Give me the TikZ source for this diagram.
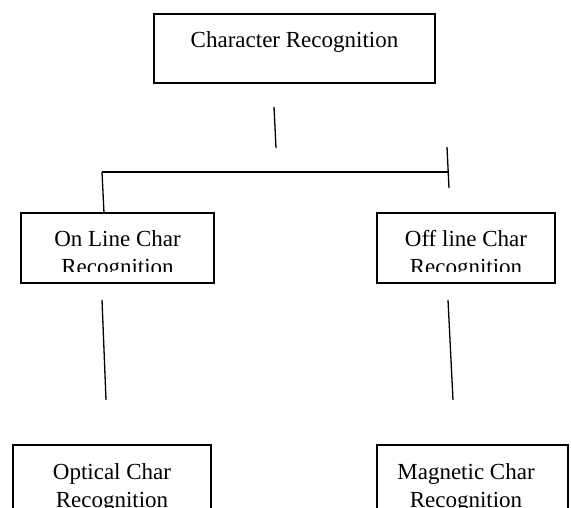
\documentclass[tikz,border=0pt]{standalone}
\usepackage{fontspec}
\setmainfont{Liberation Serif}
\begin{document}
\begin{tikzpicture}[x=1pt,y=-1pt,
  box/.style={draw, line width=1.6pt, inner sep=0pt},
  lbl/.style={font=\fontsize{23}{27}\selectfont, anchor=base, inner sep=0pt},
  conn/.style={line width=1.3pt}]
\useasboundingbox (0,0) rectangle (571,508);
% boxes
\node[box, minimum width=281, minimum height=69] (top) at (294.5,48.5) {};
\node[box, minimum width=193, minimum height=70] (onl) at (117.5,248) {};
\node[box, minimum width=178, minimum height=70] (off) at (466,248) {};
\node[box, minimum width=198, minimum height=85] (opt) at (112,487.5) {};
\node[box, minimum width=191, minimum height=85] (mag) at (472.5,487.5) {};
% labels
\node[lbl] (topt) at (294.5,48) {Character Recognition};
\begin{scope}
\clip (21,213) rectangle (214,272);
\node[lbl] (onl1) at (117.5,247) {On Line Char};
\node[lbl] (onl2) at (117.5,274) {Recognition};
\end{scope}
\begin{scope}
\clip (377,213) rectangle (555,272);
\node[lbl] (off1) at (466,247) {Off line Char};
\node[lbl] (off2) at (466,274) {Recognition};
\end{scope}
\node[lbl] (opt1) at (112,479) {Optical Char};
\node[lbl] (opt2) at (112,507) {Recognition};
\node[lbl] (mag1) at (466,479) {Magnetic Char};
\node[lbl] (mag2) at (466,507) {Recognition};
% connector end points
\coordinate (a1) at (274,107);
\coordinate (a2) at (276,148);
\coordinate (hl) at (102,172);
\coordinate (hr) at (448,172);
\coordinate (ld) at (104,213);
\coordinate (t1) at (447,147);
\coordinate (t2) at (449,188);
\coordinate (l1) at (102,300);
\coordinate (l2) at (106,400);
\coordinate (r1) at (448,300);
\coordinate (r2) at (453,400);
% connectors
\draw[conn] (a1) -- (a2);
\draw[conn] (hl) -- (hr);
\draw[conn] (hl) -- (ld);
\draw[conn] (t1) -- (t2);
\draw[conn] (l1) -- (l2);
\draw[conn] (r1) -- (r2);
\end{tikzpicture}
\end{document}
